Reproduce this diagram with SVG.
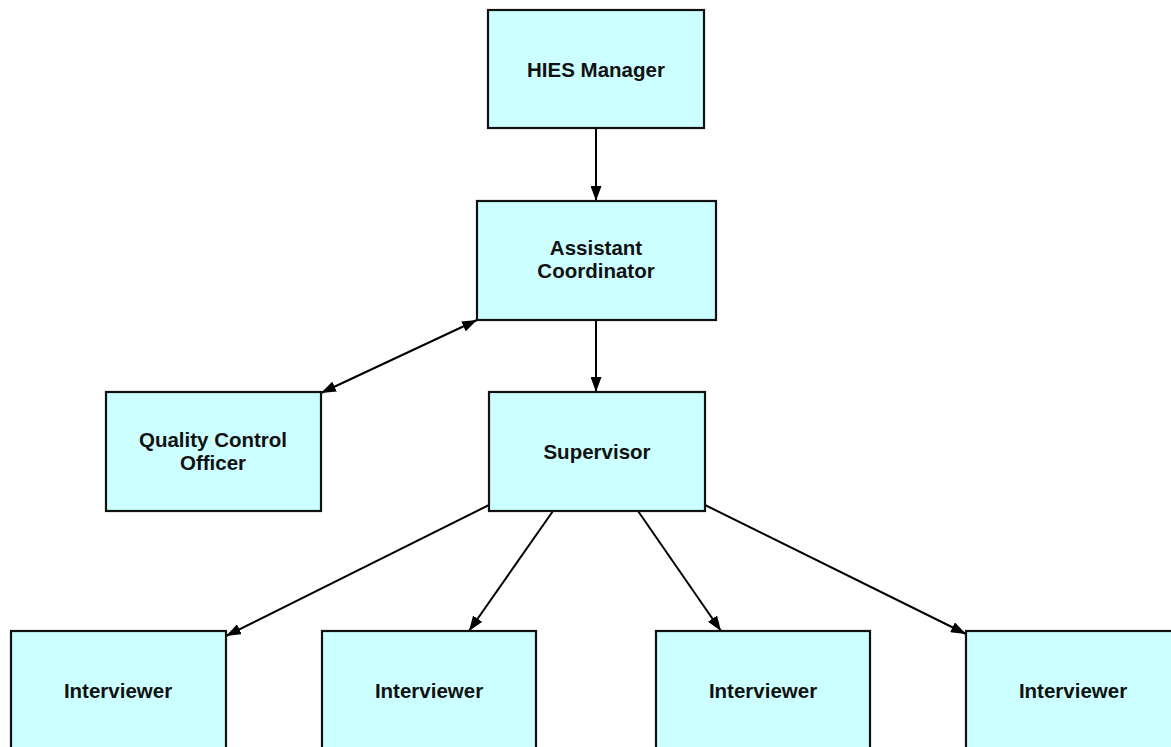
<svg xmlns="http://www.w3.org/2000/svg" width="1171" height="747" viewBox="0 0 1171 747">
<style>
.box{fill:#CCFFFF;stroke:#111;stroke-width:2.2}
.t{font-family:"Liberation Sans",Arial,sans-serif;font-weight:bold;font-size:20.5px;fill:#111;text-anchor:middle}
.c{stroke:#000;stroke-width:2;fill:none;marker-end:url(#ah)}
</style>
<defs>
<marker id="ah" viewBox="0 0 15 11" refX="15" refY="5.5" markerWidth="15" markerHeight="11" markerUnits="userSpaceOnUse" orient="auto-start-reverse">
<path d="M0,0 L15,5.5 L0,11 z" fill="#000"/>
</marker>
</defs>
<rect width="1171" height="747" fill="#fff"/>
<g id="connectors">
<line class="c" x1="596" y1="128" x2="596" y2="201"/>
<line class="c" x1="596" y1="320" x2="596" y2="392"/>
<line class="c" x1="477" y1="320" x2="321" y2="393" marker-start="url(#ah)"/>
<line class="c" x1="489" y1="505" x2="226" y2="636"/>
<line class="c" x1="553" y1="511" x2="469" y2="631"/>
<line class="c" x1="638" y1="511" x2="721" y2="631"/>
<line class="c" x1="705" y1="505" x2="966" y2="634"/>
</g>
<g id="hies"><rect class="box" x="488" y="10" width="216" height="118"/><text class="t" x="596" y="77">HIES Manager</text></g>
<g id="ac"><rect class="box" x="477" y="201" width="239" height="119"/><text class="t" x="596" y="255">Assistant</text><text class="t" x="596" y="278">Coordinator</text></g>
<g id="qco"><rect class="box" x="106" y="392" width="215" height="119"/><text class="t" x="213" y="447">Quality Control</text><text class="t" x="213" y="470">Officer</text></g>
<g id="sup"><rect class="box" x="489" y="392" width="216" height="119"/><text class="t" x="597" y="459">Supervisor</text></g>
<g id="int1"><rect class="box" x="11" y="631" width="215" height="130"/><text class="t" x="118" y="698">Interviewer</text></g>
<g id="int2"><rect class="box" x="322" y="631" width="214" height="130"/><text class="t" x="429" y="698">Interviewer</text></g>
<g id="int3"><rect class="box" x="656" y="631" width="214" height="130"/><text class="t" x="763" y="698">Interviewer</text></g>
<g id="int4"><rect class="box" x="966" y="631" width="216" height="130"/><text class="t" x="1073" y="698">Interviewer</text></g>
</svg>
